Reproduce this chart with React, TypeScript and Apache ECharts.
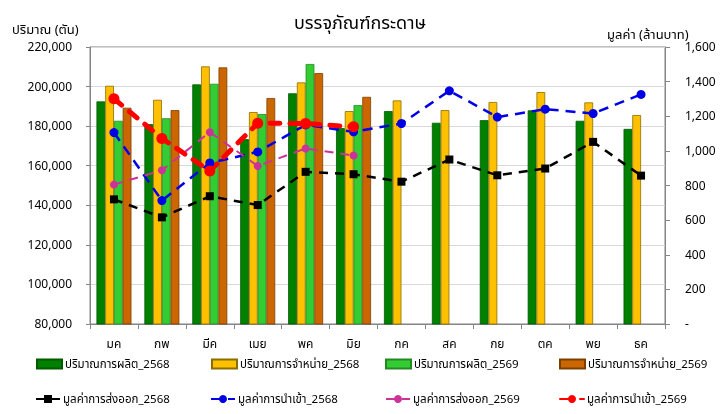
import React, { useEffect, useRef } from "react";
import * as echarts from "echarts";

const months = ["มค", "กพ", "มีค", "เมย", "พค", "มิย", "กค", "สค", "กย", "ตค", "พย", "ธค"];

const prod2568 = [192500, 181000, 201100, 173400, 196600, 179000, 187600, 181700, 183000, 188000, 182700, 178600];
const sales2568 = [200400, 193300, 210200, 187100, 202100, 187600, 193000, 188100, 192200, 197200, 192000, 185600];
const prod2569 = [182700, 184000, 201400, 186100, 211400, 190600, null, null, null, null, null, null];
const sales2569 = [189300, 188100, 209700, 194200, 206800, 194800, null, null, null, null, null, null];

const export2568 = [720, 616, 738, 687, 879, 865, 822, 950, 859, 898, 1052, 857];
const import2568 = [1106, 713, 930, 994, 1150, 1110, 1158, 1347, 1195, 1241, 1216, 1326];
const export2569 = [805, 888, 1108, 913, 1014, 973, null, null, null, null, null, null];
const import2569 = [1301, 1072, 884, 1160, 1158, 1139, null, null, null, null, null, null];

const leftTicks = { min: 80000, max: 220000, interval: 20000 };
const rightTicks = { min: 0, max: 1600, interval: 200 };

const FONT = "Tahoma, 'Noto Sans Thai', 'Leelawadee UI', 'DejaVu Sans', sans-serif";

const names = [
  "ปริมาณการผลิต_2568",
  "ปริมาณการจำหน่าย_2568",
  "ปริมาณการผลิต_2569",
  "ปริมาณการจำหน่าย_2569",
  "มูลค่าการส่งออก_2568",
  "มูลค่าการนำเข้า_2568",
  "มูลค่าการส่งออก_2569",
  "มูลค่าการนำเข้า_2569",
];

const fmt = (v: number) => v.toString().replace(/\B(?=(\d{3})+(?!\d))/g, ",");

export default function App() {
  const ref = useRef<HTMLDivElement>(null);
  useEffect(() => {
    if (!ref.current) return;
    const chart = echarts.init(ref.current, undefined, { renderer: "svg" });

    const legendPos = [
      [36, 358],
      [211, 358],
      [385, 358],
      [559, 358],
      [35, 393],
      [210, 393],
      [385, 393],
      [559, 393],
    ];
    const legends = names.map((n, i) => ({
      data: [n],
      left: legendPos[i][0],
      top: legendPos[i][1],
      itemWidth: i < 4 ? 25 : 24,
      itemHeight: i < 4 ? 9 : 10,
      itemGap: 0,
      padding: 0,
      icon: i < 4 ? "rect" : undefined,
      textStyle: { fontFamily: FONT, fontSize: 11.5, color: "#000", padding: [0, 0, 0, -2] },
    }));

    const barSeries = [
      { name: names[0], data: prod2568, color: "#008000", border: "#005a00" },
      { name: names[1], data: sales2568, color: "#FFC000", border: "#8a6d00" },
      { name: names[2], data: prod2569, color: "#33CC33", border: "#238a23" },
      { name: names[3], data: sales2569, color: "#CC6600", border: "#7a4000" },
    ].map((s) => ({
      name: s.name,
      type: "bar",
      yAxisIndex: 0,
      data: s.data,
      barGap: "0%",
      barCategoryGap: "27%",
      itemStyle: { color: s.color, borderColor: s.border, borderWidth: 0.8 },
    }));

    const lineSeries = [
      { name: names[4], data: export2568, color: "#000000", width: 2.5, dash: [9, 7], cap: "butt", symbol: "rect", size: 8 },
      { name: names[5], data: import2568, color: "#0000E6", width: 2.5, dash: [10, 7], cap: "butt", symbol: "circle", size: 9 },
      { name: names[6], data: export2569, color: "#CC3399", width: 2, dash: [9, 7], cap: "butt", symbol: "circle", size: 8 },
      { name: names[7], data: import2569, color: "#FF0000", width: 5, dash: [10, 10], cap: "round", symbol: "circle", size: 11 },
    ].map((s) => ({
      name: s.name,
      type: "line",
      yAxisIndex: 1,
      data: s.data,
      symbol: s.symbol,
      symbolSize: s.size,
      showSymbol: true,
      connectNulls: false,
      z: 5,
      itemStyle: { color: s.color },
      lineStyle: { color: s.color, width: s.width, type: s.dash, cap: s.cap },
    }));

    chart.setOption({
      animation: false,
      textStyle: { fontFamily: FONT },
      title: {
        text: "บรรจุภัณฑ์กระดาษ",
        left: "center",
        top: 9,
        textStyle: { fontFamily: FONT, fontSize: 18, fontWeight: "normal", color: "#000" },
      },
      legend: legends,
      grid: {
        left: 90,
        right: 55,
        top: 47,
        bottom: 90,
        show: true,
        borderColor: "#808080",
        borderWidth: 1,
      },
      xAxis: {
        type: "category",
        data: months,
        boundaryGap: true,
        axisLine: { show: true, lineStyle: { color: "#868686" } },
        axisTick: { show: true, length: 5, lineStyle: { color: "#868686" } },
        axisLabel: { fontFamily: FONT, fontSize: 12, color: "#000", margin: 14 },
      },
      yAxis: [
        {
          type: "value",
          min: leftTicks.min,
          max: leftTicks.max,
          interval: leftTicks.interval,
          axisLine: { show: true, lineStyle: { color: "#868686" } },
          axisTick: { show: true, length: 4, lineStyle: { color: "#868686" } },
          axisLabel: { fontFamily: FONT, fontSize: 12, color: "#000", margin: 18, formatter: (v: number) => fmt(v) },
          splitLine: { show: true, lineStyle: { color: "#d9d9d9", width: 1 } },
        },
        {
          type: "value",
          min: rightTicks.min,
          max: rightTicks.max,
          interval: rightTicks.interval,
          position: "right",
          axisLine: { show: true, lineStyle: { color: "#868686" } },
          axisTick: { show: true, length: 5, lineStyle: { color: "#868686" } },
          axisLabel: {
            fontFamily: FONT,
            fontSize: 12,
            color: "#000",
            margin: 20,
            formatter: (v: number) => (v === 0 ? "-" : fmt(v)),
          },
          splitLine: { show: false },
        },
      ],
      graphic: [
        {
          type: "text",
          left: 12,
          top: 23,
          style: { text: "ปริมาณ (ตัน)", fontFamily: FONT, fontSize: 13, fill: "#000" },
        },
        {
          type: "text",
          left: 607,
          top: 28,
          style: { text: "มูลค่า (ล้านบาท)", fontFamily: FONT, fontSize: 13, fill: "#000" },
        },
      ],
      series: [...barSeries, ...lineSeries],
    });
    return () => chart.dispose();
  }, []);
  return <div ref={ref} style={{ position: "fixed", left: 0, top: 0, width: 720, height: 414 }} />;
}
